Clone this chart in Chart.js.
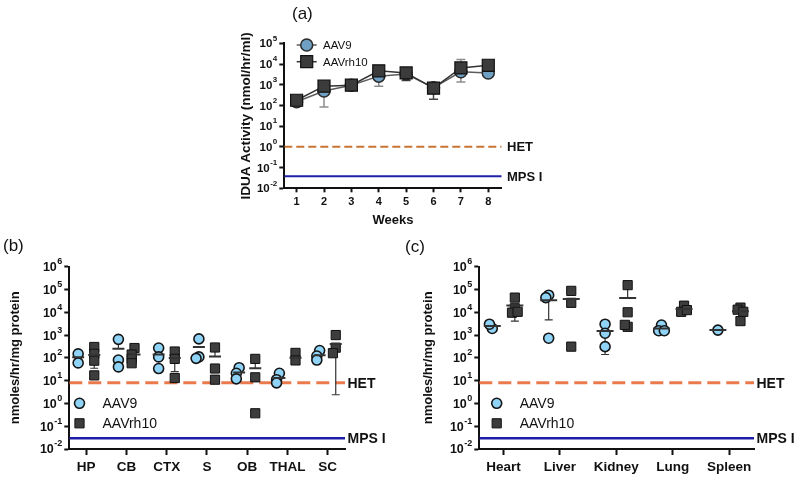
<!DOCTYPE html>
<html>
<head>
<meta charset="utf-8">
<script src="https://cdn.jsdelivr.net/npm/chart.js@4.4.1/dist/chart.umd.min.js"></script>
<style>
body { margin: 0; background: #fff; }
#fig { position: relative; width: 799px; height: 478px; overflow: hidden; font-family: "Liberation Sans", Arial, sans-serif; }
.box { position: absolute; }
.tag { position: absolute; font-size: 17px; color: #111; line-height: 1; }
</style>
</head>
<body>
<div id="fig">
  <div class="box" style="left:220px;top:0;width:340px;height:240px"><canvas id="chartA"></canvas></div>
  <div class="box" style="left:0;top:230px;width:400px;height:248px"><canvas id="chartB"></canvas></div>
  <div class="box" style="left:400px;top:230px;width:399px;height:248px"><canvas id="chartC"></canvas></div>
  <div class="tag" style="left:292px;top:5px">(a)</div>
  <div class="tag" style="left:3px;top:237px">(b)</div>
  <div class="tag" style="left:405px;top:238px">(c)</div>
</div>
<script>
// ---- (a) plasma IDUA, weeks after injection
const weeks = [1, 2, 3, 4, 5, 6, 7, 8];
const plasmaAAV9 = [150, 500, 950, 2600, 3300, 720, 4200, 3700];
const plasmaRh10 = [178, 850, 950, 4700, 3700, 680, 6500, 8700];
const plasmaAAV9Lo = [null, 85, null, 850, null, null, 1350, null];
const plasmaAAV9Hi = [null, 1350, null, null, null, null, 16500, null];
const plasmaRh10Lo = [null, null, null, null, 1600, 200, null, null];
const plasmaRh10Hi = [null, null, null, null, null, null, null, null];

// ---- (b) brain regions
const brainRegions = ['HP', 'CB', 'CTX', 'S', 'OB', 'THAL', 'SC'];
const brainAAV9 = [[150, 60], [650, 80, 40], [270, 110, 34], [680, 110, 95], [37, 21, 12], [21, 11, 8], [210, 120, 80]];
const brainRh10 = [[300, 150, 75, 17], [270, 140, 90, 58], [190, 90, 13], [285, 34, 11], [90, 14, 0.37], [165, 77], [1000, 280, 160]];
const brainAAV9Mean = [105, 250, 140, 300, 23, 13, 130];
const brainRh10Mean = [135, 140, 98, 115, 35, 100, 410];
const brainAAV9Lo = [null, null, null, null, null, null, null];
const brainAAV9Hi = [null, 600, null, null, null, null, null];
const brainRh10Lo = [35, null, 25, null, null, null, 2.4];
const brainRh10Hi = [null, null, null, 250, 80, null, null];

// ---- (c) peripheral organs
const organs = ['Heart', 'Liver', 'Kidney', 'Lung', 'Spleen'];
const organAAV9 = [[1950, 3000], [56000, 44000, 730], [3000, 1200, 310], [2750, 1550, 1550], [1650]];
const organRh10 = [[44000, 15000, 9600, 10500], [87000, 26000, 310], [155000, 10000, 2300, 2800], [19500, 10500, 12500], [16000, 13000, 10500, 4100]];
const organAAV9Mean = [2500, 33600, 1500, 1950, 1650];
const organRh10Mean = [19800, 38000, 42500, 14000, 11000];
const organAAV9Lo = [null, 4600, 140, null, null];
const organAAV9Hi = [null, null, null, null, null];
const organRh10Lo = [4100, null, null, null, null];
const organRh10Hi = [null, null, 120000, null, null];

// reference levels
const hetPlasma = 1, mpsPlasma = 0.038;
const hetTissue = 8, mpsTissue = 0.03;
const decadesA = [1e-2, 1e-1, 1e0, 1e1, 1e2, 1e3, 1e4, 1e5];
const decadesBC = [1e-2, 1e-1, 1e0, 1e1, 1e2, 1e3, 1e4, 1e5, 1e6];

const INK = '#111';
const FAM = "'Liberation Sans', Arial, Helvetica, sans-serif";
Chart.defaults.font.family = FAM;
Chart.defaults.color = INK;

function drawMark(ctx, style, x, y, r, fill, stroke, lw) {
  ctx.beginPath();
  if (style === 'rect') {
    const h = r * Math.SQRT1_2;
    ctx.rect(x - h, y - h, 2 * h, 2 * h);
  } else {
    ctx.arc(x, y, r, 0, Math.PI * 2);
  }
  ctx.fillStyle = fill;
  ctx.fill();
  ctx.lineWidth = lw;
  ctx.strokeStyle = stroke;
  ctx.stroke();
}

// "10" with a raised exponent next to each decade tick of the y scale
const powTicks = {
  id: 'powTicks',
  afterDraw(chart, args, opts) {
    if (!opts.size) return;
    const s = chart.scales.y;
    const ctx = chart.ctx;
    const xr = s.right - opts.gap;
    ctx.save();
    ctx.fillStyle = INK;
    ctx.textAlign = 'right';
    ctx.textBaseline = 'middle';
    s.ticks.forEach(t => {
      const y = s.getPixelForValue(t.value);
      const e = String(Math.round(Math.log10(t.value)));
      ctx.font = 'bold ' + opts.expSize + 'px ' + FAM;
      const w = ctx.measureText(e).width;
      ctx.fillText(e, xr, y - opts.rise);
      ctx.font = 'bold ' + opts.size + 'px ' + FAM;
      ctx.fillText('10', xr - w - 0.5, y + 1);
    });
    ctx.restore();
  }
};

// text for the HET / MPS I reference lines, right of the plot
const refLabels = {
  id: 'refLabels',
  afterDatasetsDraw(chart, args, opts) {
    if (!opts.items) return;
    const { ctx, chartArea, scales } = chart;
    ctx.save();
    ctx.font = opts.font;
    ctx.fillStyle = INK;
    ctx.textAlign = 'left';
    ctx.textBaseline = 'middle';
    opts.items.forEach(it => {
      ctx.fillText(it.text, chartArea.right + opts.dx, scales.y.getPixelForValue(it.value) + 1);
    });
    ctx.restore();
  }
};

// legend drawn inside the plot area, like the original
const markLegend = {
  id: 'markLegend',
  afterDraw(chart, args, opts) {
    if (!opts.items) return;
    const ctx = chart.ctx;
    ctx.save();
    ctx.font = opts.font;
    ctx.textBaseline = 'middle';
    ctx.textAlign = 'left';
    opts.items.forEach((idx, k) => {
      const ds = chart.data.datasets[idx];
      const y = opts.y + k * opts.dy;
      if (opts.line) {
        ctx.beginPath();
        ctx.moveTo(opts.x - 10, y);
        ctx.lineTo(opts.x + 10, y);
        ctx.strokeStyle = ds.borderColor;
        ctx.lineWidth = ds.borderWidth;
        ctx.stroke();
      }
      drawMark(ctx, ds.pointStyle, opts.x, y, ds.pointRadius, ds.pointBackgroundColor, ds.pointBorderColor, ds.pointBorderWidth);
      ctx.fillStyle = INK;
      ctx.fillText(ds.label, opts.textX, y + 1);
    });
    ctx.restore();
  }
};

Chart.register(powTicks, refLabels, markLegend);

// points of one group, nudged sideways when they sit on top of each other
function groupPoints(groups, side, spread) {
  const pts = [];
  groups.forEach((vals, i) => {
    const placed = [];
    vals.forEach(v => {
      const lv = Math.log10(v);
      const near = placed.filter(p => Math.abs(p - lv) < 0.3).length;
      const shift = near === 0 ? 0 : (near % 2 ? -spread : spread);
      placed.push(lv);
      pts.push({ x: i + side + shift, y: v });
    });
  });
  return pts;
}

function errorSegments(xs, means, lo, hi) {
  const data = [];
  means.forEach((m, i) => {
    [lo[i], hi[i]].forEach(end => {
      if (end == null) return;
      data.push({ x: xs[i], y: m }, { x: xs[i], y: end, cap: true }, { x: xs[i], y: null });
    });
  });
  return data;
}

function errorDataset(data, color, width, capR) {
  return {
    type: 'line', label: 'err', data: data, showLine: true, spanGaps: false,
    borderColor: color, borderWidth: width,
    pointStyle: 'line', pointBorderColor: color, pointBorderWidth: width,
    pointRadius: c => (c.raw && c.raw.cap ? capR : 0),
    order: 3
  };
}

function refLine(xmin, xmax, value, color, width, dash) {
  return {
    type: 'line', label: 'ref', data: [{ x: xmin, y: value }, { x: xmax, y: value }],
    borderColor: color, borderWidth: width, borderDash: dash || [], pointRadius: 0, order: 6
  };
}

function logAxis(decades, min, max, titleText, width, titlePad, titleSize) {
  return {
    type: 'logarithmic', min: min, max: max,
    afterBuildTicks: s => { s.ticks = decades.map(v => ({ value: v, major: true })); },
    afterFit: s => { s.width = width; },
    ticks: { display: false },
    grid: { drawOnChartArea: false, drawTicks: true, tickLength: 5, tickWidth: 2, tickColor: INK },
    border: { display: true, color: INK, width: 2 },
    title: { display: true, text: titleText, color: INK, font: { size: titleSize, weight: 'bold', lineHeight: 1 }, padding: { top: titlePad, bottom: 0 } }
  };
}

function catAxis(cats, min, max, height, fontSize) {
  return {
    type: 'linear', min: min, max: max,
    afterBuildTicks: s => { s.ticks = cats.map((c, i) => ({ value: i })); },
    afterFit: s => { s.height = height; },
    ticks: { callback: v => cats[v], font: { size: fontSize, weight: 'bold' }, color: INK, padding: 4, autoSkip: false, maxRotation: 0 },
    grid: { drawOnChartArea: false, drawTicks: true, tickLength: 6, tickWidth: 2, tickColor: INK },
    border: { display: true, color: INK, width: 2 }
  };
}

const baseOptions = {
  responsive: true,
  maintainAspectRatio: false,
  animation: false,
  events: [],
  plugins: { legend: { display: false }, tooltip: { enabled: false } }
};

// ---------------- (a)
const xMinA = 0.55, xMaxA = 8.49;
new Chart(document.getElementById('chartA'), {
  type: 'scatter',
  data: {
    datasets: [
      {
        type: 'line', label: 'AAV9',
        data: weeks.map((w, i) => ({ x: w, y: plasmaAAV9[i] })),
        borderColor: '#5c5c5c', borderWidth: 1.5,
        pointStyle: 'circle', pointRadius: 6,
        pointBackgroundColor: '#6f9fc2', pointBorderColor: '#2b2b2b', pointBorderWidth: 1.5,
        order: 1
      },
      {
        type: 'line', label: 'AAVrh10',
        data: weeks.map((w, i) => ({ x: w, y: plasmaRh10[i] })),
        borderColor: '#333', borderWidth: 1.5,
        pointStyle: 'rect', pointRadius: 8.5,
        pointBackgroundColor: '#3b3b3b', pointBorderColor: '#111', pointBorderWidth: 1.2,
        order: 0
      },
      errorDataset(errorSegments(weeks, plasmaAAV9, plasmaAAV9Lo, plasmaAAV9Hi), '#8c8c8c', 1.5, 4.5),
      errorDataset(errorSegments(weeks, plasmaRh10, plasmaRh10Lo, plasmaRh10Hi), '#444', 1.5, 4.5),
      refLine(xMinA, xMaxA, hetPlasma, '#c97332', 2, [8, 4]),
      refLine(xMinA, xMaxA, mpsPlasma, '#1f1fa6', 2)
    ]
  },
  options: {
    ...baseOptions,
    layout: { padding: { left: 0, top: 43.3, right: 58.3, bottom: 0 } },
    scales: {
      x: {
        type: 'linear', min: xMinA, max: xMaxA,
        afterBuildTicks: s => { s.ticks = weeks.map(w => ({ value: w })); },
        afterFit: s => { s.height = 51.7; },
        ticks: { font: { size: 11, weight: 'bold' }, color: INK, padding: 3 },
        grid: { drawOnChartArea: false, drawTicks: true, tickLength: 4, tickWidth: 2, tickColor: INK },
        border: { display: true, color: INK, width: 2 },
        title: { display: true, text: 'Weeks', color: INK, font: { size: 13, weight: 'bold', lineHeight: 1 }, padding: { top: 0, bottom: 12.8 } }
      },
      y: logAxis(decadesA, 0.01, 1e5, 'IDUA Activity (nmol/hr/ml)', 64.3, 19.5, 13.5)
    },
    plugins: {
      ...baseOptions.plugins,
      powTicks: { size: 11.5, expSize: 8, rise: 5, gap: 7 },
      refLabels: { font: 'bold 13px ' + FAM, dx: 5.3, items: [{ text: 'HET', value: hetPlasma }, { text: 'MPS I', value: mpsPlasma }] },
      markLegend: { font: '11.5px ' + FAM, x: 86.7, y: 45, dy: 16.7, textX: 103, line: true, items: [0, 1] }
    }
  }
});

// ---------------- (b) and (c)
function tissueChart(id, cats, aav9, rh10, aav9Mean, rh10Mean, aav9Lo, aav9Hi, rh10Lo, rh10Hi, geo) {
  const side = 0.2;
  const xsL = cats.map((c, i) => i - side);
  const xsR = cats.map((c, i) => i + side);
  return new Chart(document.getElementById(id), {
    type: 'scatter',
    data: {
      datasets: [
        {
          label: 'AAV9', data: groupPoints(aav9, -side, geo.spread),
          pointStyle: 'circle', pointRadius: 5,
          pointBackgroundColor: '#8fd3f6', pointBorderColor: '#151515', pointBorderWidth: 1.6,
          backgroundColor: '#8fd3f6', borderColor: '#151515', order: 1
        },
        {
          label: 'AAVrh10', data: groupPoints(rh10, side, geo.spread),
          pointStyle: 'rect', pointRadius: 6.5,
          pointBackgroundColor: '#3d3d3d', pointBorderColor: '#111', pointBorderWidth: 1,
          backgroundColor: '#3d3d3d', borderColor: '#111', order: 1
        },
        {
          label: 'mean', data: xsL.map((x, i) => ({ x: x, y: aav9Mean[i] })),
          pointStyle: 'line', pointRadius: geo.meanR, pointBorderColor: '#333', pointBorderWidth: 2, order: 0
        },
        {
          label: 'mean', data: xsR.map((x, i) => ({ x: x, y: rh10Mean[i] })),
          pointStyle: 'line', pointRadius: geo.meanR, pointBorderColor: '#333', pointBorderWidth: 2, order: 0
        },
        errorDataset(errorSegments(xsL, aav9Mean, aav9Lo, aav9Hi), '#333', 1.2, 4),
        errorDataset(errorSegments(xsR, rh10Mean, rh10Lo, rh10Hi), '#333', 1.2, 4),
        refLine(geo.xMin, geo.xMax, hetTissue, '#ea7a4e', 3, [13, 6]),
        refLine(geo.xMin, geo.xMax, mpsTissue, '#1d1da8', 2.5)
      ]
    },
    options: {
      ...baseOptions,
      layout: { padding: { left: 0, top: 36.7, right: geo.padRight, bottom: 0 } },
      scales: {
        x: catAxis(cats, geo.xMin, geo.xMax, 29, 13.5),
        y: logAxis(decadesBC, 0.01, 1e6, 'nmoles/hr/mg protein', geo.yWidth, geo.titlePad, 13)
      },
      plugins: {
        ...baseOptions.plugins,
        powTicks: { size: 12.5, expSize: 9, rise: 5, gap: 7 },
        refLabels: { font: 'bold 14px ' + FAM, dx: 2.5, items: [{ text: 'HET', value: hetTissue }, { text: 'MPS I', value: mpsTissue }] },
        markLegend: { font: '14px ' + FAM, x: geo.legX, y: 173.3, dy: 20, textX: geo.legX + 23, line: false, items: [0, 1] }
      }
    }
  });
}

tissueChart('chartB', brainRegions, brainAAV9, brainRh10, brainAAV9Mean, brainRh10Mean,
  brainAAV9Lo, brainAAV9Hi, brainRh10Lo, brainRh10Hi,
  { xMin: -0.42, xMax: 6.43, padRight: 55, yWidth: 69.3, titlePad: 8.5, legX: 79.5, spread: 0.07, meanR: 6 });

tissueChart('chartC', organs, organAAV9, organRh10, organAAV9Mean, organRh10Mean,
  organAAV9Lo, organAAV9Hi, organRh10Lo, organRh10Hi,
  { xMin: -0.43, xMax: 4.44, padRight: 45, yWidth: 79.3, titlePad: 21.5, legX: 96.7, spread: 0.05, meanR: 8.5 });
</script>
</body>
</html>
